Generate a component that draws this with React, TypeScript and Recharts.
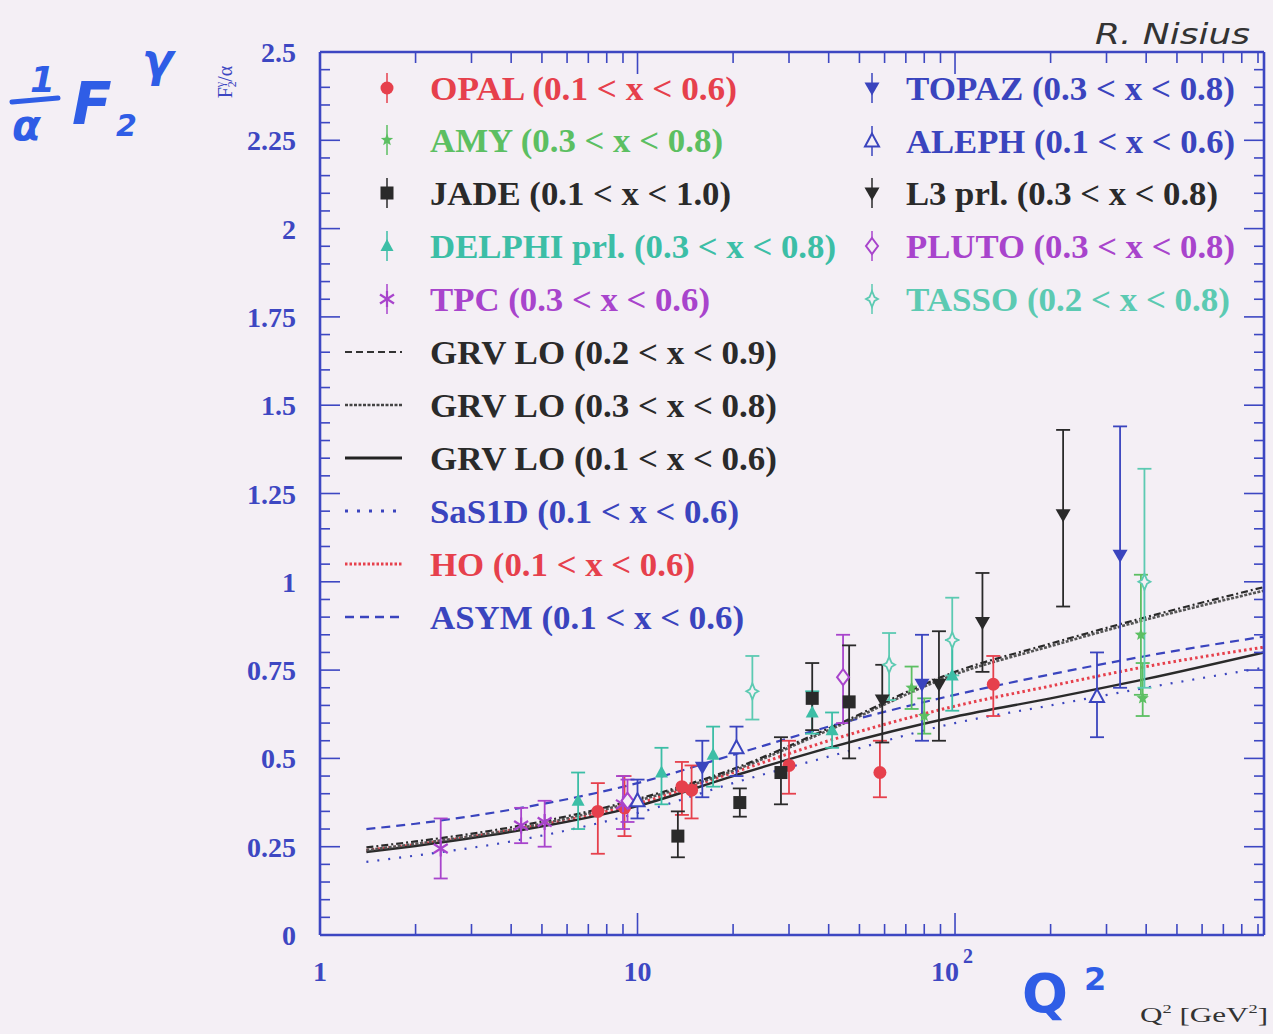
import React from "react";
import { ComposedChart, Line, Scatter, XAxis, YAxis, ErrorBar } from "recharts";

const W = 1273;
const H = 1034;
const BG = "#f4eff5";
const AXIS = "#3d47c2";
const SERIF = "'Liberation Serif', 'Times New Roman', serif";

const RED = "#e6404c";
const GREEN = "#5cbf62";
const BLACK = "#2a2a2a";
const TEAL = "#3cbea6";
const PURPLE = "#a844cc";
const BLUE = "#3a44be";
const LTEAL = "#5ccab2";

// axis ticks
const X_MAJOR = [1, 10, 100];
const Y_MAJOR = [0, 0.25, 0.5, 0.75, 1, 1.25, 1.5, 1.75, 2, 2.25, 2.5];
const xTicks: number[] = [];
X_MAJOR.forEach((d) => {
  for (let k = 1; k <= 9; k++) if (d * k <= 940) xTicks.push(d * k);
});
const yTicks = Array.from({ length: 51 }, (_, i) => Number((i * 0.05).toFixed(2)));

// data points: q = Q^2, v = F2/alpha, err = [down, up]
const opal = [
  { q: 7.5, v: 0.35, err: [0.12, 0.08] },
  { q: 9.1, v: 0.36, err: [0.08, 0.09] },
  { q: 13.8, v: 0.42, err: [0.08, 0.07] },
  { q: 14.8, v: 0.41, err: [0.08, 0.07] },
  { q: 30, v: 0.48, err: [0.08, 0.07] },
  { q: 58, v: 0.46, err: [0.07, 0.09] },
  { q: 132, v: 0.71, err: [0.09, 0.08] },
];
const amy = [
  { q: 73, v: 0.7, err: [0.06, 0.06] },
  { q: 80, v: 0.62, err: [0.05, 0.05] },
  { q: 385, v: 0.85, err: [0.17, 0.17] },
  { q: 390, v: 0.67, err: [0.05, 0.1] },
];
const jade = [
  { q: 13.4, v: 0.28, err: [0.06, 0.07] },
  { q: 21, v: 0.375, err: [0.04, 0.04] },
  { q: 28.3, v: 0.46, err: [0.09, 0.1] },
  { q: 35.5, v: 0.67, err: [0.09, 0.1] },
  { q: 46.4, v: 0.66, err: [0.16, 0.16] },
];
const delphi = [
  { q: 6.5, v: 0.38, err: [0.08, 0.08] },
  { q: 11.9, v: 0.46, err: [0.09, 0.07] },
  { q: 17.3, v: 0.51, err: [0.09, 0.08] },
  { q: 35.5, v: 0.63, err: [0.06, 0.06] },
  { q: 41, v: 0.58, err: [0.05, 0.05] },
  { q: 98, v: 0.735, err: [0.1, 0.1] },
];
const tpc = [
  { q: 2.4, v: 0.245, err: [0.085, 0.085] },
  { q: 4.3, v: 0.31, err: [0.05, 0.05] },
  { q: 5.1, v: 0.32, err: [0.07, 0.06] },
  { q: 9.0, v: 0.37, err: [0.07, 0.08] },
];
const topaz = [
  { q: 16, v: 0.475, err: [0.085, 0.075] },
  { q: 78.7, v: 0.71, err: [0.16, 0.14] },
  { q: 331, v: 1.075, err: [0.375, 0.365] },
];
const aleph = [
  { q: 10, v: 0.38, err: [0.05, 0.06] },
  { q: 20.5, v: 0.53, err: [0.08, 0.06] },
  { q: 280, v: 0.675, err: [0.115, 0.125] },
];
const l3 = [
  { q: 59, v: 0.665, err: [0.12, 0.1] },
  { q: 89, v: 0.71, err: [0.16, 0.15] },
  { q: 122, v: 0.885, err: [0.14, 0.14] },
  { q: 219, v: 1.19, err: [0.26, 0.24] },
];
const pluto = [
  { q: 9.3, v: 0.38, err: [0.06, 0.06] },
  { q: 44.4, v: 0.73, err: [0.13, 0.12] },
];
const tasso = [
  { q: 23, v: 0.69, err: [0.08, 0.1] },
  { q: 62, v: 0.765, err: [0.1, 0.09] },
  { q: 98, v: 0.835, err: [0.1, 0.12] },
  { q: 395, v: 1.0, err: [0.3, 0.32] },
];

// model curves
const curveQ = [1.4, 2, 4, 10, 20, 40, 100, 200, 400, 940];
const grv29V = [0.248, 0.265, 0.305, 0.385, 0.47, 0.585, 0.745, 0.825, 0.9, 0.985];
const grv38V = [0.24, 0.258, 0.298, 0.38, 0.465, 0.58, 0.738, 0.818, 0.893, 0.975];
const grv16V = [0.235, 0.252, 0.292, 0.365, 0.45, 0.53, 0.618, 0.67, 0.725, 0.8];
const sasV = [0.207, 0.225, 0.265, 0.345, 0.43, 0.505, 0.6, 0.65, 0.7, 0.757];
const hoV = [0.24, 0.256, 0.297, 0.372, 0.46, 0.55, 0.648, 0.705, 0.76, 0.815];
const asymV = [0.3, 0.315, 0.355, 0.43, 0.51, 0.59, 0.68, 0.738, 0.79, 0.845];
const toRows = (vals: number[]) => curveQ.map((q, i) => ({ q, v: vals[i] }));

type Kind = "circle" | "star" | "square" | "triUp" | "asterisk" | "triDown" | "triUpOpen" | "diamondOpen" | "sparkOpen";

function Marker({ kind, color, cx, cy }: { kind: Kind; color: string; cx: number; cy: number }) {
  switch (kind) {
    case "circle":
      return <circle cx={cx} cy={cy} r={6.5} fill={color} />;
    case "square":
      return <rect x={cx - 6.5} y={cy - 6.5} width={13} height={13} fill={color} />;
    case "triUp":
      return <polygon points={`${cx},${cy - 7} ${cx - 6.5},${cy + 5} ${cx + 6.5},${cy + 5}`} fill={color} />;
    case "triDown":
      return <polygon points={`${cx - 7.5},${cy - 5.5} ${cx + 7.5},${cy - 5.5} ${cx},${cy + 7.5}`} fill={color} />;
    case "triUpOpen":
      return <polygon points={`${cx},${cy - 7.5} ${cx - 7},${cy + 5.5} ${cx + 7},${cy + 5.5}`} fill={BG} stroke={color} strokeWidth={2} />;
    case "diamondOpen":
      return <polygon points={`${cx},${cy - 8} ${cx + 6},${cy} ${cx},${cy + 8} ${cx - 6},${cy}`} fill={BG} stroke={color} strokeWidth={2} />;
    case "sparkOpen":
      return (
        <polygon
          points={`${cx},${cy - 8} ${cx + 2.5},${cy - 2} ${cx + 6},${cy} ${cx + 2.5},${cy + 2} ${cx},${cy + 8} ${cx - 2.5},${cy + 2} ${cx - 6},${cy} ${cx - 2.5},${cy - 2}`}
          fill={BG}
          stroke={color}
          strokeWidth={1.8}
        />
      );
    case "star": {
      const pts: string[] = [];
      for (let i = 0; i < 10; i++) {
        const r = i % 2 === 0 ? 6.5 : 2.8;
        const a = -Math.PI / 2 + (i * Math.PI) / 5;
        pts.push(`${cx + r * Math.cos(a)},${cy + r * Math.sin(a)}`);
      }
      return <polygon points={pts.join(" ")} fill={color} />;
    }
    case "asterisk":
      return (
        <g stroke={color} strokeWidth={2.2}>
          <line x1={cx} y1={cy - 8} x2={cx} y2={cy + 8} />
          <line x1={cx - 7} y1={cy - 4.5} x2={cx + 7} y2={cy + 4.5} />
          <line x1={cx - 7} y1={cy + 4.5} x2={cx + 7} y2={cy - 4.5} />
        </g>
      );
  }
  return null;
}

const pointSeries = [
  { name: "OPAL", data: opal, kind: "circle" as Kind, color: RED },
  { name: "AMY", data: amy, kind: "star" as Kind, color: GREEN },
  { name: "TASSO", data: tasso, kind: "sparkOpen" as Kind, color: LTEAL },
  { name: "DELPHI", data: delphi, kind: "triUp" as Kind, color: TEAL },
  { name: "TPC", data: tpc, kind: "asterisk" as Kind, color: PURPLE },
  { name: "PLUTO", data: pluto, kind: "diamondOpen" as Kind, color: PURPLE },
  { name: "ALEPH", data: aleph, kind: "triUpOpen" as Kind, color: BLUE },
  { name: "TOPAZ", data: topaz, kind: "triDown" as Kind, color: BLUE },
  { name: "JADE", data: jade, kind: "square" as Kind, color: BLACK },
  { name: "L3", data: l3, kind: "triDown" as Kind, color: BLACK },
];

const curveSeries = [
  { name: "SaS1D", data: toRows(sasV), color: BLUE, dash: "2 9", w: 2.2 },
  { name: "ASYM", data: toRows(asymV), color: BLUE, dash: "9 6", w: 2.2 },
  { name: "HO", data: toRows(hoV), color: RED, dash: "2.5 3", w: 3 },
  { name: "GRV16", data: toRows(grv16V), color: BLACK, dash: undefined, w: 2.4 },
  { name: "GRV38", data: toRows(grv38V), color: "#555", dash: "3 1.5", w: 2.6 },
  { name: "GRV29", data: toRows(grv29V), color: BLACK, dash: "7 3 2 3", w: 2.2 },
];

const legendLeft = [
  { text: "OPAL (0.1 < x < 0.6)", color: RED, kind: "circle" as Kind, y: 88, w: 307 },
  { text: "AMY (0.3 < x < 0.8)", color: GREEN, kind: "star" as Kind, y: 140, w: 293 },
  { text: "JADE (0.1 < x < 1.0)", color: BLACK, kind: "square" as Kind, y: 193, w: 301 },
  { text: "DELPHI prl. (0.3 < x < 0.8)", color: TEAL, kind: "triUp" as Kind, y: 246, w: 406 },
  { text: "TPC (0.3 < x < 0.6)", color: PURPLE, kind: "asterisk" as Kind, y: 299, w: 280 },
];
const legendRight = [
  { text: "TOPAZ (0.3 < x < 0.8)", color: BLUE, kind: "triDown" as Kind, y: 88, w: 329 },
  { text: "ALEPH (0.1 < x < 0.6)", color: BLUE, kind: "triUpOpen" as Kind, y: 141, w: 329 },
  { text: "L3 prl. (0.3 < x < 0.8)", color: BLACK, kind: "triDown" as Kind, y: 193, w: 312 },
  { text: "PLUTO (0.3 < x < 0.8)", color: PURPLE, kind: "diamondOpen" as Kind, y: 246, w: 329 },
  { text: "TASSO (0.2 < x < 0.8)", color: LTEAL, kind: "sparkOpen" as Kind, y: 299, w: 324 },
];
const legendLines = [
  { text: "GRV LO (0.2 < x < 0.9)", color: BLACK, line: "#333", dash: "7 4", sw: 2.2, y: 352, w: 347 },
  { text: "GRV LO (0.3 < x < 0.8)", color: BLACK, line: "#444", dash: "3 1.5", sw: 2.6, y: 405, w: 347 },
  { text: "GRV LO (0.1 < x < 0.6)", color: BLACK, line: "#222", dash: undefined, sw: 3, y: 458, w: 347 },
  { text: "SaS1D (0.1 < x < 0.6)", color: BLUE, line: BLUE, dash: "3 9", sw: 3, y: 511, w: 309 },
  { text: "HO (0.1 < x < 0.6)", color: RED, line: RED, dash: "2.5 2", sw: 3, y: 564, w: 265 },
  { text: "ASYM (0.1 < x < 0.6)", color: BLUE, line: BLUE, dash: "9 6", sw: 2.4, y: 617, w: 314 },
];

function XTick(props: any) {
  const { x, y, payload, side } = props;
  const v = payload?.value;
  const major = X_MAJOR.includes(v);
  const len = major ? 22 : 11;
  const dir = side === "bottom" ? -1 : 1;
  return (
    <g>
      <line x1={x} y1={y} x2={x} y2={y + dir * len} stroke={AXIS} strokeWidth={1.6} />
      {side === "bottom" && major && (
        <text x={v === 100 ? x - 3 : x} y={y + 46} textAnchor="middle" fill={AXIS} fontFamily={SERIF} fontWeight="bold" fontSize={28}>
          {v === 100 ? "10" : String(v)}
          {v === 100 && (
            <tspan dx={4} dy={-18} fontSize={20}>
              2
            </tspan>
          )}
        </text>
      )}
    </g>
  );
}

function YTick(props: any) {
  const { x, y, payload, side } = props;
  const v = payload?.value;
  const major = Y_MAJOR.some((m) => Math.abs(m - v) < 1e-6);
  const len = major ? 20 : 10;
  const dir = side === "left" ? 1 : -1;
  return (
    <g>
      <line x1={x} y1={y} x2={x + dir * len} y2={y} stroke={AXIS} strokeWidth={1.6} />
      {side === "left" && major && (
        <text x={x - 24} y={y + 10} textAnchor="end" fill={AXIS} fontFamily={SERIF} fontWeight="bold" fontSize={28}>
          {String(v)}
        </text>
      )}
    </g>
  );
}

export default function App() {
  const axisLine = { stroke: AXIS, strokeWidth: 2.6 };
  return (
    <div style={{ position: "relative", width: W, height: H, background: BG, overflow: "hidden" }}>
      <style>{`body{margin:0;background:${BG}}`}</style>
      <ComposedChart width={W} height={H} margin={{ top: 50, right: 7, bottom: 39, left: 260 }}>
        <XAxis
          xAxisId="b"
          dataKey="q"
          type="number"
          scale="log"
          domain={[1, 940]}
          allowDataOverflow
          ticks={xTicks}
          interval={0}
          height={60}
          tickSize={0}
          tickMargin={0}
          axisLine={axisLine}
          tick={(p: any) => <XTick {...p} side="bottom" />}
        />
        <XAxis
          xAxisId="t"
          orientation="top"
          dataKey="q"
          type="number"
          scale="log"
          domain={[1, 940]}
          allowDataOverflow
          ticks={xTicks}
          interval={0}
          height={2}
          tickSize={0}
          tickMargin={0}
          axisLine={axisLine}
          tick={(p: any) => <XTick {...p} side="top" />}
        />
        <YAxis
          yAxisId="l"
          dataKey="v"
          type="number"
          domain={[0, 2.5]}
          allowDataOverflow
          ticks={yTicks}
          interval={0}
          width={60}
          tickSize={0}
          tickMargin={0}
          axisLine={axisLine}
          tick={(p: any) => <YTick {...p} side="left" />}
        />
        <YAxis
          yAxisId="r"
          orientation="right"
          dataKey="v"
          type="number"
          domain={[0, 2.5]}
          allowDataOverflow
          ticks={yTicks}
          interval={0}
          width={2}
          tickSize={0}
          tickMargin={0}
          axisLine={axisLine}
          tick={(p: any) => <YTick {...p} side="right" />}
        />
        {curveSeries.map((c) => (
          <Line
            key={c.name}
            xAxisId="b"
            yAxisId="l"
            data={c.data}
            dataKey="v"
            type="monotone"
            stroke={c.color}
            strokeWidth={c.w}
            strokeDasharray={c.dash}
            dot={false}
            activeDot={false}
            isAnimationActive={false}
          />
        ))}
        {/* hidden series to keep the mirror axes alive */}
        <Line xAxisId="t" yAxisId="r" data={toRows(grv16V)} dataKey="v" stroke="none" dot={false} activeDot={false} isAnimationActive={false} />
        {pointSeries.map((s) => (
          <Scatter
            key={s.name}
            xAxisId="b"
            yAxisId="l"
            data={s.data}
            dataKey="v"
            isAnimationActive={false}
            shape={(p: any) => <Marker kind={s.kind} color={s.color} cx={p.cx} cy={p.cy} />}
          >
            <ErrorBar dataKey="err" direction="y" width={7} stroke={s.color} strokeWidth={1.8} />
          </Scatter>
        ))}
      </ComposedChart>

      <svg width={W} height={H} style={{ position: "absolute", left: 0, top: 0, pointerEvents: "none" }}>
        {legendLeft.map((l) => (
          <g key={l.text}>
            <line x1={387} y1={l.y - 15} x2={387} y2={l.y + 15} stroke={l.color} strokeWidth={1.5} />
            <Marker kind={l.kind} color={l.color} cx={387} cy={l.y} />
            <text x={430} y={l.y + 12} textLength={l.w} lengthAdjust="spacingAndGlyphs" fill={l.color} fontFamily={SERIF} fontWeight="bold" fontSize={33}>
              {l.text}
            </text>
          </g>
        ))}
        {legendRight.map((l) => (
          <g key={l.text}>
            <line x1={872} y1={l.y - 15} x2={872} y2={l.y + 15} stroke={l.color} strokeWidth={1.5} />
            <Marker kind={l.kind} color={l.color} cx={872} cy={l.y} />
            <text x={906} y={l.y + 12} textLength={l.w} lengthAdjust="spacingAndGlyphs" fill={l.color} fontFamily={SERIF} fontWeight="bold" fontSize={33}>
              {l.text}
            </text>
          </g>
        ))}
        {legendLines.map((l) => (
          <g key={l.text}>
            <line x1={345} y1={l.y} x2={402} y2={l.y} stroke={l.line} strokeWidth={l.sw} strokeDasharray={l.dash} />
            <text x={430} y={l.y + 12} textLength={l.w} lengthAdjust="spacingAndGlyphs" fill={l.color} fontFamily={SERIF} fontWeight="bold" fontSize={33}>
              {l.text}
            </text>
          </g>
        ))}

        {/* y axis title */}
        <text transform="rotate(-90 232 82)" x={232} y={82} textAnchor="middle" fill={AXIS} fontFamily={SERIF} fontSize={20}>
          F<tspan fontSize={12} dy={4}>2</tspan>
          <tspan fontSize={12} dy={-12} dx={-6}>γ</tspan>
          <tspan dy={8}>/α</tspan>
        </text>

        {/* x axis title */}
        <text x={1140} y={1022} textLength={128} lengthAdjust="spacingAndGlyphs" fill="#333" fontFamily={SERIF} fontSize={22}>
          Q<tspan fontSize={13} dy={-9}>2</tspan>
          <tspan dy={9}> [GeV</tspan>
          <tspan fontSize={13} dy={-9}>2</tspan>
          <tspan dy={9}>]</tspan>
        </text>

        {/* handwritten notes */}
        <g fill="#2f5de6" fontFamily="'DejaVu Sans', sans-serif" fontStyle="italic" fontWeight="bold">
          <text x={30} y={92} fontSize={36}>1</text>
          <line x1={12} y1={102} x2={58} y2={98} stroke="#2f5de6" strokeWidth={5} strokeLinecap="round" />
          <text x={12} y={140} fontSize={42}>α</text>
          <text x={72} y={124} fontSize={58}>F</text>
          <text x={116} y={136} fontSize={30}>2</text>
          <text x={142} y={76} fontSize={46}>γ</text>
          <text x={1022} y={1012} fontSize={54} fontStyle="normal">Q</text>
          <text x={1084} y={990} fontSize={32} fontStyle="normal">2</text>
        </g>
        <text x={1095} y={44} textLength={155} lengthAdjust="spacingAndGlyphs" fill="#333" fontFamily="'DejaVu Sans', sans-serif" fontStyle="italic" fontSize={28}>
          R. Nisius
        </text>
      </svg>
    </div>
  );
}
